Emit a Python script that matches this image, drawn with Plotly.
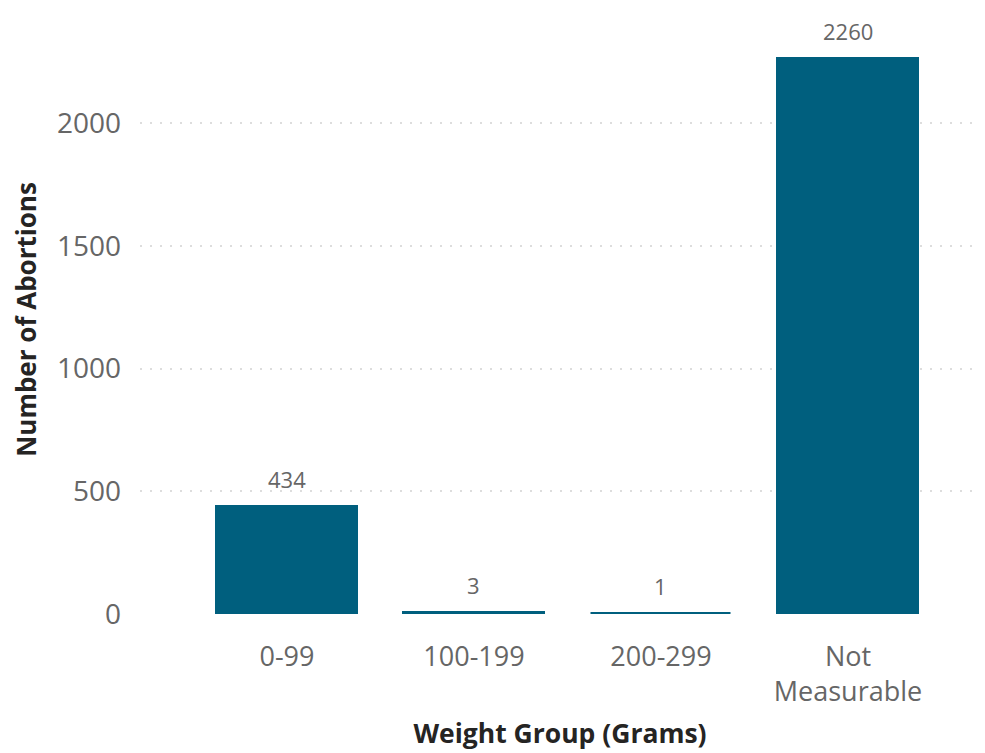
import plotly.graph_objects as go

categories = ["0-99", "100-199", "200-299", "Not<br>Measurable"]
values = [434, 3, 1, 2260]
y_ticks = [0, 500, 1000, 1500, 2000]

bar_color = "#005F7E"
font_family = "Open Sans"
x_pos = list(range(len(categories)))

fig = go.Figure(
    go.Bar(
        x=x_pos,
        y=values,
        marker=dict(color=bar_color, line=dict(color=bar_color, width=3)),
        width=0.75,
        hoverinfo="x+y",
    )
)

for xi, v in zip(x_pos, values):
    fig.add_annotation(
        x=xi, y=v, text=str(v), showarrow=False,
        yanchor="middle", yshift=28,
        font=dict(family=font_family, size=22, color="#666666"),
    )

fig.update_layout(
    width=985,
    height=753,
    margin=dict(l=132, r=13, t=17, b=147),
    plot_bgcolor="white",
    paper_bgcolor="white",
    showlegend=False,
    font=dict(family=font_family),
    bargap=0,
)

fig.update_xaxes(
    tickmode="array",
    tickvals=x_pos,
    ticktext=categories,
    range=[-0.786, 3.706],
    showgrid=False,
    zeroline=False,
    showline=False,
    automargin=False,
    tickfont=dict(family=font_family, size=27, color="#666666"),
    ticklabelstandoff=24,
    title=dict(
        text="<b>Weight Group (Grams)</b>",
        font=dict(family=font_family, size=26.5, color="#252423"),
        standoff=16,
    ),
)

fig.update_yaxes(
    range=[0, 2400],
    tickmode="array",
    tickvals=y_ticks,
    ticktext=[str(t) for t in y_ticks],
    showgrid=True,
    gridcolor="#DDDDDD",
    griddash="2px,8px",
    gridwidth=2,
    zeroline=False,
    showline=False,
    automargin=False,
    tickfont=dict(family=font_family, size=28, color="#666666"),
    ticklabelstandoff=18,
    title=dict(
        text="<b>Number of Abortions</b>",
        font=dict(family=font_family, size=26, color="#252423"),
        standoff=20,
    ),
)

fig.write_html("out.html")
